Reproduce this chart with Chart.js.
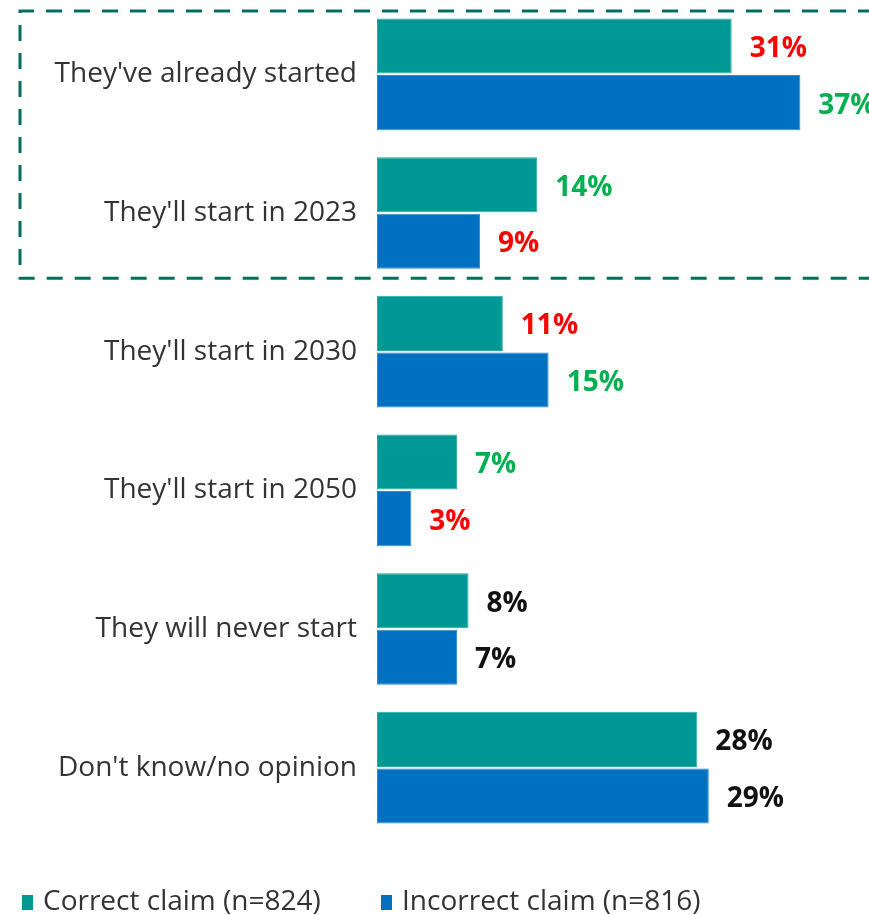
<!DOCTYPE html>
<html lang="en">
<head>
  <meta charset="UTF-8">
  <title>When will they start</title>
  <script src="https://cdn.jsdelivr.net/npm/chart.js"></script>
  <style>
    html, body { margin: 0; padding: 0; background: #fff; }
    #wrap { width: 869px; height: 915px; }
  </style>
</head>
<body>
  <div id="wrap"><canvas id="chart"></canvas></div>

  <script>
    const categories = [
      "They've already started",
      "They'll start in 2023",
      "They'll start in 2030",
      "They'll start in 2050",
      "They will never start",
      "Don't know/no opinion"
    ];
    const correctClaim = [31, 14, 11, 7, 8, 28];
    const incorrectClaim = [37, 9, 15, 3, 7, 29];
    const seriesNames = ['Correct claim (n=824)', 'Incorrect claim (n=816)'];

    // label colours: red = lower, green = higher, black = no notable gap
    const RED = '#ff0000', GREEN = '#00b050', BLACK = '#111111';
    const correctLabelColors = [RED, GREEN, RED, GREEN, BLACK, BLACK];
    const incorrectLabelColors = [GREEN, RED, GREEN, RED, BLACK, BLACK];

    const FONT = "'Open Sans', 'Noto Sans', sans-serif";
    const TEAL = '#009894';
    const BLUE = '#0070c0';

    // percentage labels at the end of each bar
    const valueLabels = {
      id: 'valueLabels',
      afterDatasetsDraw(chart) {
        const ctx = chart.ctx;
        const colorSets = [correctLabelColors, incorrectLabelColors];
        ctx.save();
        ctx.font = 'bold 28px ' + FONT;
        ctx.textBaseline = 'middle';
        ctx.textAlign = 'left';
        chart.data.datasets.forEach((ds, di) => {
          chart.getDatasetMeta(di).data.forEach((bar, i) => {
            ctx.fillStyle = colorSets[di][i];
            ctx.fillText(ds.data[i] + '%', bar.x + 18, bar.y + 3);
          });
        });
        ctx.restore();
      }
    };

    // dashed frame around the first two categories
    const dashedFrame = {
      id: 'dashedFrame',
      afterDraw(chart) {
        const y = chart.scales.y;
        const pitch = y.getPixelForValue(1) - y.getPixelForValue(0);
        const top = y.getPixelForValue(0) - pitch / 2 + 6;
        const bottom = (y.getPixelForValue(1) + y.getPixelForValue(2)) / 2 - 4;
        const ctx = chart.ctx;
        ctx.save();
        ctx.strokeStyle = '#006f5c';
        ctx.lineWidth = 3;
        ctx.setLineDash([16, 12]);
        ctx.beginPath();
        ctx.moveTo(chart.width + 5, top);
        ctx.lineTo(20, top);
        ctx.lineTo(20, bottom);
        ctx.lineTo(chart.width + 5, bottom);
        ctx.stroke();
        ctx.restore();
      }
    };

    // legend row along the bottom
    const bottomLegend = {
      id: 'bottomLegend',
      afterDraw(chart) {
        const ctx = chart.ctx;
        const items = [
          { x: 22, color: TEAL, text: seriesNames[0] },
          { x: 381, color: BLUE, text: seriesNames[1] }
        ];
        ctx.save();
        ctx.font = '28px ' + FONT;
        ctx.textBaseline = 'middle';
        ctx.textAlign = 'left';
        items.forEach(it => {
          ctx.fillStyle = it.color;
          ctx.fillRect(it.x, 895, 11, 15);
          ctx.fillStyle = '#333333';
          ctx.fillText(it.text, it.x + 21, 902);
        });
        ctx.restore();
      }
    };

    new Chart(document.getElementById('chart'), {
      type: 'bar',
      data: {
        labels: categories,
        datasets: [
          {
            label: seriesNames[0],
            data: correctClaim,
            backgroundColor: TEAL,
            borderColor: '#2aa9a5',
            borderWidth: 1,
            borderSkipped: false
          },
          {
            label: seriesNames[1],
            data: incorrectClaim,
            backgroundColor: BLUE,
            borderColor: '#2f8bd0',
            borderWidth: 1,
            borderSkipped: false
          }
        ]
      },
      options: {
        indexAxis: 'y',
        responsive: true,
        maintainAspectRatio: false,
        animation: false,
        categoryPercentage: 0.816,
        barPercentage: 0.973,
        layout: { padding: { top: 5, right: 0, bottom: 78, left: 0 } },
        plugins: {
          legend: { display: false },
          tooltip: { enabled: false }
        },
        scales: {
          x: {
            min: 0,
            max: 43,
            display: false
          },
          y: {
            grid: { display: false, drawTicks: false },
            border: { display: false },
            ticks: {
              color: '#333333',
              font: { family: FONT, size: 28 },
              padding: 20
            },
            afterFit(scale) {
              scale.width = 377;
              scale.paddingTop = 0;
              scale.paddingBottom = 0;
            }
          }
        }
      },
      plugins: [valueLabels, dashedFrame, bottomLegend]
    });
  </script>
</body>
</html>
